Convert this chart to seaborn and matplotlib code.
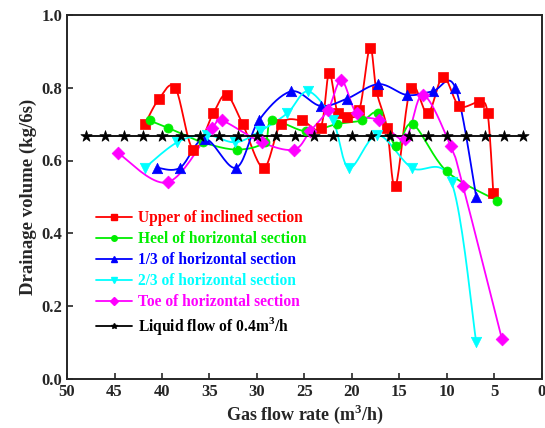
import numpy as np
import pandas as pd
import matplotlib
matplotlib.use('Agg')
import matplotlib.pyplot as plt
import seaborn as sns
from matplotlib.lines import Line2D

# values
upper_x = [41.8, 40.3, 38.6, 36.7, 34.6, 33.2, 31.5, 29.3, 27.5, 25.3, 23.3, 22.4, 21.5,
           20.5, 19.2, 18.1, 17.4, 16.3, 15.4, 13.8, 12.0, 10.4, 8.7, 6.6, 5.7, 5.1]
upper_y = [0.70, 0.77, 0.80, 0.63, 0.73, 0.78, 0.70, 0.58, 0.70, 0.71, 0.69, 0.84, 0.73,
           0.72, 0.74, 0.91, 0.79, 0.69, 0.53, 0.80, 0.73, 0.83, 0.75, 0.76, 0.73, 0.51]

heel_x = [41.3, 39.4, 35.7, 32.1, 29.2, 28.4, 24.8, 21.6, 18.9, 17.2, 15.3, 13.6, 10.0, 4.7]
heel_y = [0.71, 0.69, 0.65, 0.63, 0.65, 0.71, 0.68, 0.70, 0.71, 0.73, 0.64, 0.70, 0.57, 0.49]

third_x = [40.5, 38.1, 35.5, 32.2, 29.8, 26.4, 23.3, 20.5, 17.2, 14.2, 11.5, 9.1, 6.9]
third_y = [0.58, 0.58, 0.66, 0.58, 0.71, 0.79, 0.75, 0.77, 0.81, 0.78, 0.79, 0.80, 0.50]

twothird_x = [41.8, 38.4, 35.3, 32.3, 29.7, 26.8, 24.6, 22.0, 20.3, 17.3, 13.7, 9.5, 6.9]
twothird_y = [0.58, 0.65, 0.67, 0.65, 0.68, 0.73, 0.79, 0.71, 0.58, 0.67, 0.58, 0.54, 0.10]

toe_x = [44.6, 39.4, 34.7, 33.7, 29.5, 26.1, 24.4, 22.5, 21.1, 19.5, 17.1, 14.4, 12.5,
         9.6, 8.3, 4.2]
toe_y = [0.62, 0.54, 0.69, 0.71, 0.65, 0.63, 0.68, 0.74, 0.82, 0.73, 0.71, 0.66, 0.78,
         0.64, 0.53, 0.11]

liquid_x = [48, 46, 44, 42, 40, 38, 36, 34, 32, 30, 28, 26, 24, 22, 20, 18, 16, 14, 12,
            10, 8, 6, 4, 2]
liquid_y = [0.667] * len(liquid_x)

labels = ['Upper of inclined section', 'Heel of horizontal section',
          '1/3 of horizontal section', '2/3 of horizontal section',
          'Toe of horizontal section', 'Liquid flow of 0.4m$^\\mathbf{3}$/h']
colors = ['#ff0000', '#00ee00', '#0000ff', '#00ffff', '#ff00ff', '#000000']
markers = ['s', 'o', '^', 'v', 'D', '*']
msizes = [6.5, 6.5, 7.5, 7.5, 6.5, 8.5]


def smooth(x, y, n=20):
    # catmull-rom curve through the points, just for drawing the line
    p = np.column_stack([x, y]).astype(float)
    p = np.vstack([p[0], p, p[-1]])
    out = []
    for i in range(1, len(p) - 2):
        p0, p1, p2, p3 = p[i - 1], p[i], p[i + 1], p[i + 2]
        t = np.linspace(0, 1, n, endpoint=False)[:, None]
        c = 0.5 * ((2 * p1) + (-p0 + p2) * t + (2 * p0 - 5 * p1 + 4 * p2 - p3) * t ** 2
                   + (-p0 + 3 * p1 - 3 * p2 + p3) * t ** 3)
        out.append(c)
    out.append(p[-2][None, :])
    c = np.vstack(out)
    return c[:, 0], c[:, 1]


sns.set_style('ticks')
plt.rcParams['font.family'] = ['Liberation Serif', 'DejaVu Serif']
plt.rcParams['font.weight'] = 'bold'
plt.rcParams['mathtext.fontset'] = 'custom'
plt.rcParams['mathtext.rm'] = 'Liberation Serif:bold'
plt.rcParams['mathtext.bf'] = 'Liberation Serif:bold'

fig = plt.figure(figsize=(5.45, 4.28), dpi=100)
ax = fig.add_axes([0.123, 0.115, 0.871, 0.85])

series = [(upper_x, upper_y), (heel_x, heel_y), (third_x, third_y),
          (twothird_x, twothird_y), (toe_x, toe_y), (liquid_x, liquid_y)]

handles = []
for (xs, ys), lab, col, mk, ms in zip(series, labels, colors, markers, msizes):
    sx, sy = smooth(xs, ys)
    curve = pd.DataFrame({'x': sx, 'y': sy})
    sns.lineplot(data=curve, x='x', y='y', sort=False, color=col, lw=1.3, ax=ax)
    pts = pd.DataFrame({'x': xs, 'y': ys})
    sns.scatterplot(data=pts, x='x', y='y', color=col, marker=mk, s=ms ** 2,
                    edgecolor=col, linewidth=0.5, ax=ax, zorder=3)
    handles.append(Line2D([], [], color=col, lw=1.3, marker=mk, markersize=4, label=lab))

ax.set_xlim(50, 0)
ax.set_ylim(0, 1.0)
ax.set_xticks([50, 45, 40, 35, 30, 25, 20, 15, 10, 5, 0])
ax.set_yticks([0.0, 0.2, 0.4, 0.6, 0.8, 1.0])
ax.set_yticklabels(['0.0', '0.2', '0.4', '0.6', '0.8', '1.0'])
ax.tick_params(direction='in', length=4, width=1.2, labelsize=12)
for lab in ax.get_xticklabels() + ax.get_yticklabels():
    lab.set_fontweight('bold')
for sp in ax.spines.values():
    sp.set_linewidth(1.4)
    sp.set_visible(True)

ax.set_xlabel('Gas flow rate (m$^\\mathbf{3}$/h)', fontsize=13, fontweight='bold', labelpad=2)
ax.set_ylabel('Drainage volume (kg/6s)', fontsize=13.5, fontweight='bold', labelpad=3)

leg = ax.legend(handles=handles, loc='upper left', bbox_to_anchor=(0.045, 0.485),
                frameon=False, handlelength=2.3, handletextpad=0.4,
                labelspacing=0.32, borderpad=0, labelcolor='linecolor',
                prop={'weight': 'bold', 'size': 11.2})

fig.savefig('out.png', dpi=100)
